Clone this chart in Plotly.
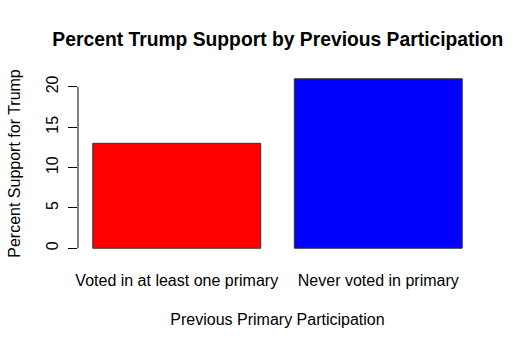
import plotly.graph_objects as go

categories = ["Voted in at least one primary", "Never voted in primary"]
support = [13, 21]
bar_colors = ["#FF0000", "#0000FF"]
y_ticks = [0, 5, 10, 15, 20]

FONT = "Liberation Sans, Arial, Helvetica, sans-serif"

fig = go.Figure(go.Bar(
    x=categories, y=support,
    marker=dict(color=bar_colors, line=dict(color="#333333", width=1)),
))

fig.update_layout(
    width=517, height=348,
    margin=dict(l=78, r=40, t=72, b=93),
    paper_bgcolor="white", plot_bgcolor="white",
    bargap=0.1667,
    showlegend=False,
    font=dict(family=FONT, size=16, color="black"),
    title=dict(text="<b>Percent Trump Support by Previous Participation</b>",
               x=0.5375, xanchor="center", y=0.886, yanchor="middle",
               font=dict(size=19.3, family=FONT, color="black")),
)

fig.update_xaxes(
    type="category", range=[-0.49, 1.49],
    showline=False, showgrid=False, zeroline=False,
    ticks="outside", ticklen=11, tickcolor="rgba(0,0,0,0)",
    title=dict(text="Previous Primary Participation", standoff=25,
               font=dict(size=16)),
)

fig.update_yaxes(
    range=[-0.84, 21.84], tickvals=y_ticks,
    showline=False, showgrid=False, zeroline=False,
    ticks="outside", ticklen=9, tickcolor="black", tickwidth=1,
    tickangle=-90, ticklabelstandoff=4,
    title=dict(text="Percent Support for Trump", standoff=18,
               font=dict(size=16)),
)

fig.add_shape(type="line", xref="paper", yref="y", x0=0, x1=0,
              y0=y_ticks[0], y1=y_ticks[-1],
              line=dict(color="black", width=1))

fig.write_html("out.html")
